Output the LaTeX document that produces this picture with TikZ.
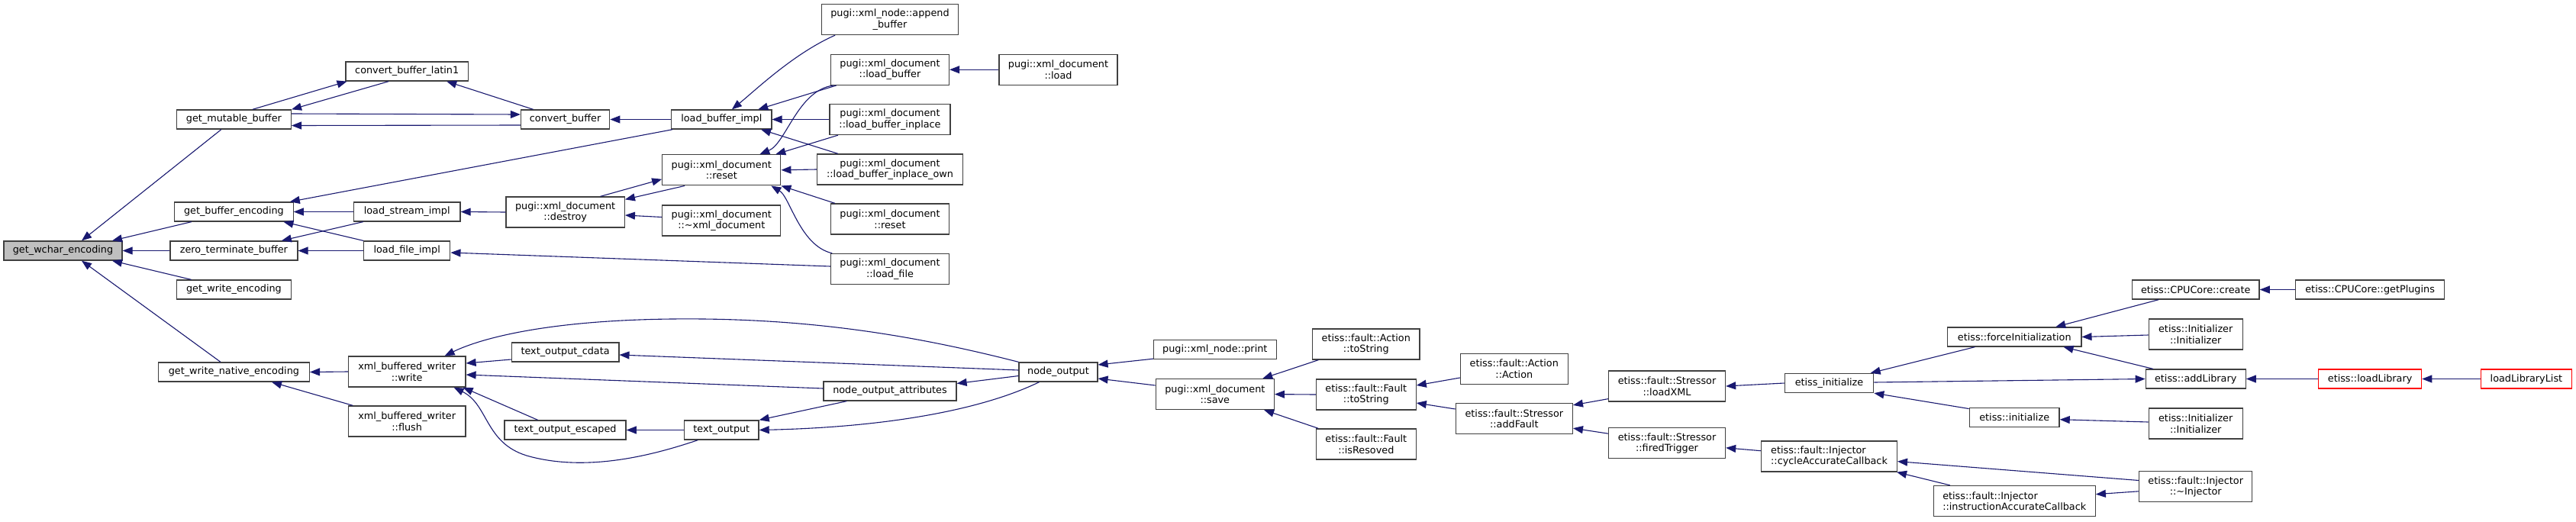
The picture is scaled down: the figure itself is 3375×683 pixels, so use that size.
\documentclass[tikz,border=0pt]{standalone}
\usepackage{fontspec}
\setmainfont{DejaVu Sans}
\usetikzlibrary{arrows.meta,calc}
\definecolor{edgec}{HTML}{191970}
\definecolor{boxc}{HTML}{404040}
\definecolor{grayfill}{HTML}{BFBFBF}
\begin{document}
\begin{tikzpicture}[x=1pt,y=-1pt,
 box/.style={draw=boxc, line width=1.3pt, fill=white, inner sep=0pt,
   font=\fontsize{12.8}{14.5}\selectfont, align=center, minimum height=25pt},
 tall/.style={minimum height=40pt},
 redbox/.style={draw=red},
 e/.style={draw=edgec, line width=1.1pt, {Triangle[length=13pt,width=10pt]}-},
]
\useasboundingbox[fill=white] (0,0) rectangle (3375,683);
\def\cA{306.4}\def\cB{533.2}\def\cC{740.6}\def\cD{945.3}\def\cE{1166}
\def\cF{1386.5}\def\cG{1591.8}\def\cH{1789.8}\def\cI{1983.8}\def\cJ{2184}
\def\cK{2396.5}\def\cL{2639.2}\def\cM{2876.7}\def\cN{3105.1}\def\cO{3309.9}
% nodes
\node[box,fill=grayfill,minimum width=155pt] (wchar) at (82.5,328.5) {get\_wchar\_encoding};
\node[box,minimum width=150pt] (mutable) at (\cA,156.5) {get\_mutable\_buffer};
\node[box,minimum width=155.5pt] (getbuf) at (\cA,277.5) {get\_buffer\_encoding};
\node[box,minimum width=167pt] (zeroterm) at (\cA,328.5) {zero\_terminate\_buffer};
\node[box,minimum width=150pt] (getwrite) at (\cA,379.5) {get\_write\_encoding};
\node[box,minimum width=198pt] (gwne) at (\cA,487.5) {get\_write\_native\_encoding};
\node[box,minimum width=160.6pt] (latin1) at (\cB,93.5) {convert\_buffer\_latin1};
\node[box,minimum width=139.6pt] (loadstream) at (\cB,277.5) {load\_stream\_impl};
\node[box,minimum width=113.2pt] (lfimpl) at (\cB,328.5) {load\_file\_impl};
\node[box,tall,minimum width=153.5pt] (write) at (\cB,487) {xml\_buffered\_writer\\::write};
\node[box,tall,minimum width=153.5pt] (flush) at (\cB,552) {xml\_buffered\_writer\\::flush};
\node[box,minimum width=116.3pt] (convert) at (\cC,156.5) {convert\_buffer};
\node[box,tall,minimum width=155.4pt] (destroy) at (\cC,278) {pugi::xml\_document\\::destroy};
\node[box,minimum width=140.5pt] (cdata) at (\cC,461.5) {text\_output\_cdata};
\node[box,minimum width=159pt] (escaped) at (\cC,563.5) {text\_output\_escaped};
\node[box,minimum width=131.2pt] (lbi) at (\cD,156.5) {load\_buffer\_impl};
\node[box,tall,minimum width=155pt] (resetM) at (\cD,222.8) {pugi::xml\_document\\::reset};
\node[box,tall,minimum width=155pt] (dtor) at (\cD,289) {pugi::xml\_document\\::\textasciitilde xml\_document};
\node[box,minimum width=97.5pt] (textout) at (\cD,563.5) {text\_output};
\node[box,tall,minimum width=179pt] (append) at (\cE,25.5) {pugi::xml\_node::append\\\_buffer};
\node[box,tall,minimum width=155pt] (loadbuffer) at (\cE,91.25) {pugi::xml\_document\\::load\_buffer};
\node[box,tall,minimum width=158pt] (inplace) at (\cE,156.5) {pugi::xml\_document\\::load\_buffer\_inplace};
\node[box,tall,minimum width=191pt] (inplaceown) at (\cE,222) {pugi::xml\_document\\::load\_buffer\_inplace\_own};
\node[box,tall,minimum width=155pt] (resetR) at (\cE,287) {pugi::xml\_document\\::reset};
\node[box,tall,minimum width=155pt] (loadfile) at (\cE,352.5) {pugi::xml\_document\\::load\_file};
\node[box,minimum width=174pt] (nao) at (\cE,512.5) {node\_output\_attributes};
\node[box,tall,minimum width=155pt] (load) at (\cF,91.25) {pugi::xml\_document\\::load};
\node[box,minimum width=102.8pt] (nodeout) at (\cF,487.5) {node\_output};
\node[box,minimum width=160.7pt] (print) at (\cG,458) {pugi::xml\_node::print};
\node[box,tall,minimum width=155pt] (save) at (\cG,516.6) {pugi::xml\_document\\::save};
\node[box,tall,minimum width=140.3pt] (acttostr) at (\cH,451) {etiss::fault::Action\\::toString};
\node[box,tall,minimum width=130.7pt] (faulttostr) at (\cH,517) {etiss::fault::Fault\\::toString};
\node[box,tall,minimum width=130.7pt] (isres) at (\cH,582) {etiss::fault::Fault\\::isResoved};
\node[box,tall,minimum width=140.8pt] (action) at (\cI,483.3) {etiss::fault::Action\\::Action};
\node[box,tall,minimum width=153pt] (addfault) at (\cI,548.5) {etiss::fault::Stressor\\::addFault};
\node[box,tall,minimum width=153pt] (loadxml) at (\cJ,506) {etiss::fault::Stressor\\::loadXML};
\node[box,tall,minimum width=153pt] (fired) at (\cJ,580.8) {etiss::fault::Stressor\\::firedTrigger};
\node[box,minimum width=116.3pt] (einit) at (\cK,502) {etiss\_initialize};
\node[box,tall,minimum width=177.8pt,align=left] (cycle) at (\cK,598) {etiss::fault::Injector\\::cycleAccurateCallback};
\node[box,minimum width=175.3pt] (force) at (\cL,441.5) {etiss::forceInitialization};
\node[box,minimum width=117.8pt] (initialize) at (\cL,547.2) {etiss::initialize};
\node[box,tall,minimum width=212pt,align=left] (instr) at (\cL,656.5) {etiss::fault::Injector\\::instructionAccurateCallback};
\node[box,minimum width=166.8pt] (create) at (\cM,379.5) {etiss::CPUCore::create};
\node[box,tall,minimum width=123pt] (inittop) at (\cM,438) {etiss::Initializer\\::Initializer};
\node[box,minimum width=131pt] (addlib) at (\cM,496.5) {etiss::addLibrary};
\node[box,tall,minimum width=123pt] (initbot) at (\cM,555) {etiss::Initializer\\::Initializer};
\node[box,tall,minimum width=148pt] (dtorinj) at (\cM,637.8) {etiss::fault::Injector\\::\textasciitilde Injector};
\node[box,minimum width=195pt] (plugins) at (\cN,379.5) {etiss::CPUCore::getPlugins};
\node[box,redbox,minimum width=135pt] (loadlib) at (\cN,496.5) {etiss::loadLibrary};
\node[box,redbox,minimum width=119.2pt] (loadlist) at (\cO,496.5) {loadLibraryList};
% edges
\draw[e] ($(wchar.north)+(24.5,0)$) -- ($(mutable.south)+(-16.5,0)$);
\draw[e] ($(wchar.north)+(64.5,0)$) -- ($(getbuf.south)+(-55.5,0)$);
\draw[e] (wchar.east) -- (zeroterm.west);
\draw[e] ($(wchar.south)+(64.5,0)$) -- ($(getwrite.north)+(-55.8,0)$);
\draw[e] ($(wchar.south)+(24.5,0)$) -- ($(gwne.north)+(-17.4,0)$);
\draw[e] ($(latin1.south west)+(2.3,0)$) -- ($(mutable.north)+(24.5,0)$);
\draw[e] (mutable.north east) -- ($(latin1.south)+(-24,0)$);
\draw[e] ($(convert.west)+(0,-6.5)$) -- ($(mutable.east)+(0,-7.5)$);
\draw[e] ($(mutable.east)+(0,8)$) -- ($(convert.west)+(0,7.5)$);
\draw[e] ($(latin1.south)+(52,0)$) -- ($(convert.north)+(-42,0)$);
\draw[e] (convert.east) -- (lbi.west);
\draw[e] ($(getbuf.north east)+(-5,0)$) -- ($(lbi.south west)+(2.3,0)$);
\draw[e] (getbuf.east) -- (loadstream.west);
\draw[e] ($(getbuf.south)+(65,0)$) -- (lfimpl.north west);
\draw[e] ($(zeroterm.north)+(62.5,0)$) -- ($(loadstream.south west)+(13,0)$);
\draw[e] (zeroterm.east) -- (lfimpl.west);
\draw[e] (loadstream.east) -- (destroy.west);
\draw[e] ($(lfimpl.east)+(0,2.5)$) -- ($(loadfile.west)+(0,-3.5)$);
\draw[e] ($(lbi.north)+(13.6,0)$) .. controls (990,118) and (1040,70) .. ($(append.south west)+(18.3,0)$);
\draw[e] ($(lbi.north)+(48,0)$) -- ($(loadbuffer.south west)+(8,0)$);
\draw[e] (loadbuffer.east) -- (load.west);
\draw[e] (lbi.east) -- (inplace.west);
\draw[e] ($(lbi.south)+(51.7,0)$) -- ($(inplaceown.north west)+(28,0)$);
\draw[e] ($(resetM.north)+(50,0)$) .. controls (1030,188) and (1045,118) .. ($(loadbuffer.south west)+(4.2,0)$);
\draw[e] ($(resetM.north)+(71,0)$) -- ($(inplace.south west)+(11.6,0)$);
\draw[e] (resetM.east) -- (inplaceown.west);
\draw[e] (resetM.south east) -- ($(resetR.north west)+(6,0)$);
\draw[e] ($(resetM.south)+(65,0)$) .. controls (1035,258) and (1048,322) .. ($(loadfile.north west)+(2.4,0)$);
\draw[e] ($(resetM.west)+(0,12)$) -- ($(destroy.north)+(46,0)$);
\draw[e] ($(destroy.north east)+(0,4)$) -- ($(resetM.south west)+(30,0)$);
\draw[e] ($(destroy.east)+(0,4)$) -- ($(dtor.west)+(0,-4.5)$);
\draw[e] (gwne.east) -- (write.west);
\draw[e] ($(gwne.south)+(49.6,0)$) -- ($(flush.north west)+(6.5,0)$);
\draw[e] ($(write.east)+(0,-11)$) -- ($(cdata.west)+(0,9.5)$);
\draw[e] ($(write.north east)+(-28,0)$) .. controls (620,448) and (700,420) .. (880,418) .. controls (1060,416) and (1200,440) .. (nodeout.north west);
\draw[e] ($(write.east)+(0,4)$) -- ($(nao.west)+(0,-3.5)$);
\draw[e] ($(write.south east)+(-4,0)$) -- ($(escaped.north)+(-36,0)$);
\draw[e] ($(write.south east)+(-16,0)$) .. controls (640,530) and (635,580) .. (690,597) .. controls (770,620) and (860,595) .. ($(textout.south west)+(18.4,0)$);
\draw[e] (escaped.east) -- (textout.west);
\draw[e] ($(cdata.east)+(0,3.5)$) -- ($(nodeout.west)+(0,-2.5)$);
\draw[e] ($(nao.east)+(0,-10)$) -- ($(nodeout.west)+(0,5)$);
\draw[e] (textout.east) .. controls (1150,560) and (1280,540) .. ($(nodeout.south)+(-25,0)$);
\draw[e] (textout.north east) -- ($(nao.south west)+(31,0)$);
\draw[e] ($(nodeout.east)+(0,-9.5)$) -- ($(print.south west)+(0,-1)$);
\draw[e] ($(nodeout.east)+(0,8.5)$) -- ($(save.west)+(0,-11.6)$);
\draw[e] ($(save.north east)+(-15.7,0)$) -- ($(acttostr.south west)+(8.5,0)$);
\draw[e] (save.east) -- (faulttostr.west);
\draw[e] ($(save.south east)+(-13.8,0)$) -- ($(isres.north west)+(3.5,0)$);
\draw[e] ($(faulttostr.east)+(0,-12)$) -- ($(action.west)+(0,11.7)$);
\draw[e] ($(faulttostr.east)+(0,11)$) -- ($(addfault.west)+(0,-12.5)$);
\draw[e] ($(addfault.north east)+(0,3)$) -- ($(loadxml.south west)+(0,-4)$);
\draw[e] ($(addfault.south east)+(0,-8)$) -- ($(fired.north west)+(0,8)$);
\draw[e] (loadxml.east) -- (einit.west);
\draw[e] ($(fired.east)+(0,6)$) -- ($(cycle.west)+(0,-7.3)$);
\draw[e] ($(einit.north east)+(-4.7,0)$) -- ($(force.south west)+(36.5,0)$);
\draw[e] (addlib.west) -- ($(einit.east)+(0,-1)$);
\draw[e] ($(force.south east)+(-24,0)$) -- ($(addlib.north west)+(10.3,0)$);
\draw[e] (einit.south east) -- ($(initialize.north west)+(0,1.5)$);
\draw[e] ($(force.north)+(54,0)$) -- ($(create.south west)+(35.6,0)$);
\draw[e] (force.east) -- ($(inittop.west)+(0,1)$);
\draw[e] ($(initialize.east)+(0,2.5)$) -- ($(initbot.west)+(0,-2)$);
\draw[e] ($(cycle.east)+(0,6.6)$) -- ($(dtorinj.west)+(0,-8.3)$);
\draw[e] ($(instr.east)+(0,-8.8)$) -- ($(dtorinj.west)+(0,6)$);
\draw[e] ($(cycle.south east)+(-1,0)$) -- ($(instr.north west)+(22.3,0)$);
\draw[e] (create.east) -- (plugins.west);
\draw[e] (addlib.east) -- (loadlib.west);
\draw[e] (loadlib.east) -- (loadlist.west);
\end{tikzpicture}
\end{document}
